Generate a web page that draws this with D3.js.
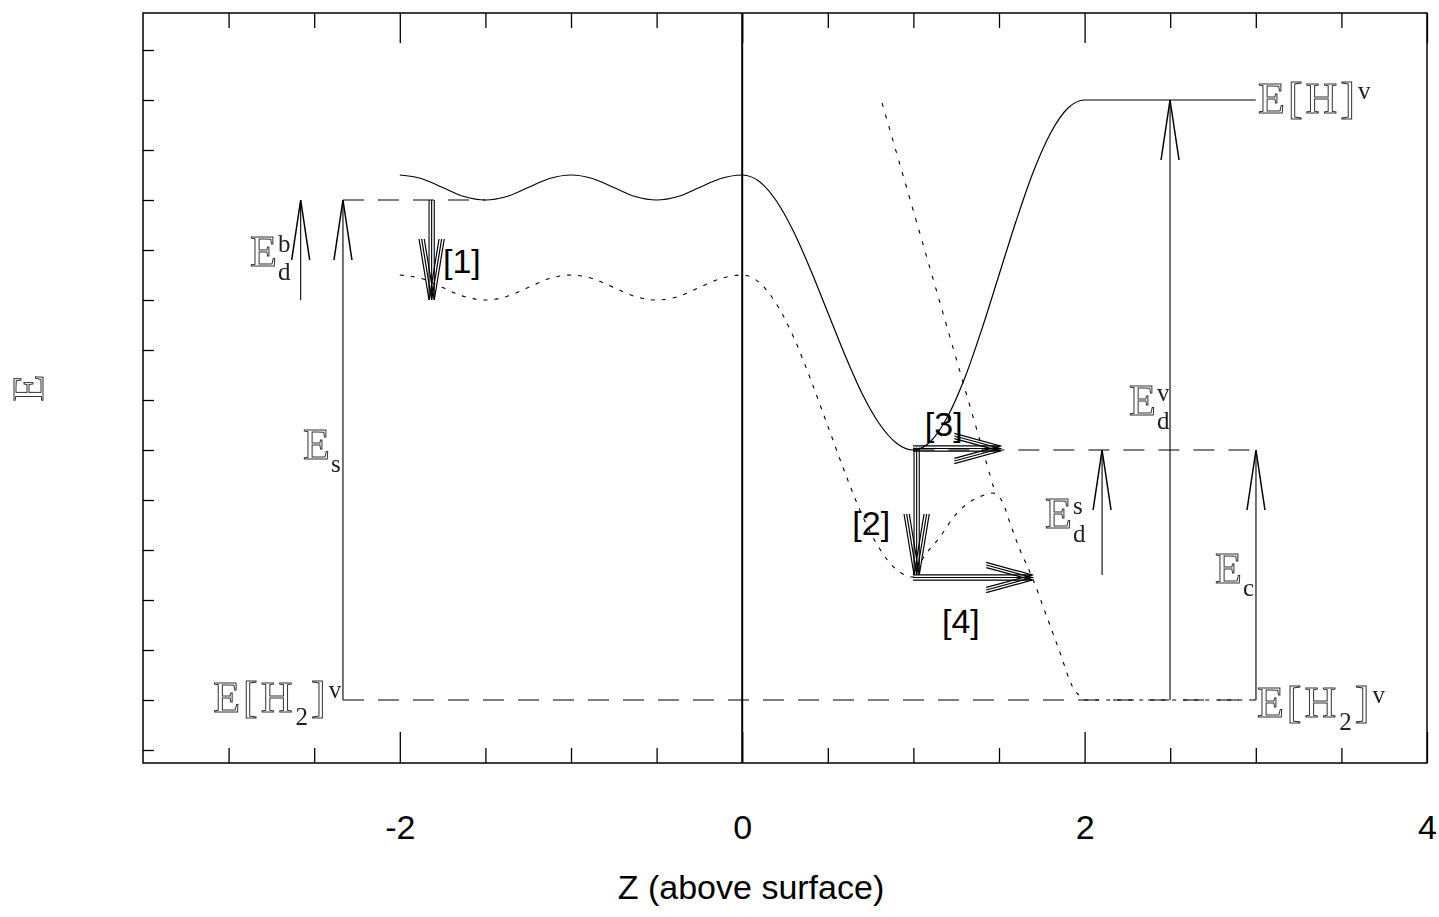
<!DOCTYPE html>
<html>
<head>
<meta charset="utf-8">
<script src="https://cdn.jsdelivr.net/npm/d3@7"></script>
<style>
  html, body { margin: 0; background: #fff; }
</style>
</head>
<body>
<svg id="chart" width="1439" height="917"></svg>
<script>
// ---- axis ticks -------------------------------------------------------
const xMajorTicks = [-2, 0, 2, 4];
const xMinorTicks = [-3, -2.5, -1.5, -1, -0.5, 0.5, 1, 1.5, 2.5, 3, 3.5];
const yTicks = [-1, 0, 1, 2, 3, 4, 5, 6, 7, 8, 9, 10, 11, 12, 13];

// ---- energy levels -----------------------------------------------------
const E_H2 = 0;        // molecule in vacuum
const E_H = 12;        // two free atoms in vacuum
const E_bulk = 10;     // bulk interstitial site
const E_chem = 5;      // chemisorbed atom
const E_sub = 8;       // lower bulk state
const E_low = 2.46;    // lower surface state

// ---- potential curves: [z, E] -----------------------------------------
// atomic potential (solid)
const atomCurve = [
  [-2, 10.5], [-1.875, 10.43], [-1.75, 10.25], [-1.625, 10.07], [-1.5, 10],
  [-1.375, 10.07], [-1.25, 10.25], [-1.125, 10.43], [-1, 10.5],
  [-0.875, 10.43], [-0.75, 10.25], [-0.625, 10.07], [-0.5, 10],
  [-0.375, 10.07], [-0.25, 10.25], [-0.125, 10.43], [0, 10.5],
  [0.1, 10.37], [0.2, 9.98], [0.3, 9.37], [0.4, 8.6], [0.5, 7.75],
  [0.6, 6.9], [0.7, 6.13], [0.8, 5.53], [0.9, 5.14], [1.0, 5.0],
  [1.1, 5.17], [1.2, 5.67], [1.3, 6.44], [1.4, 7.42], [1.5, 8.5],
  [1.6, 9.58], [1.7, 10.56], [1.8, 11.33], [1.9, 11.83], [2.0, 12.0],
  [3.0, 12.0]
];
// molecular potential (dotted)
const moleculeCurve = [
  [-2, 8.5], [-1.875, 8.43], [-1.75, 8.25], [-1.625, 8.07], [-1.5, 8],
  [-1.375, 8.07], [-1.25, 8.25], [-1.125, 8.43], [-1, 8.5],
  [-0.875, 8.43], [-0.75, 8.25], [-0.625, 8.07], [-0.5, 8],
  [-0.375, 8.07], [-0.25, 8.25], [-0.125, 8.43], [0, 8.5],
  [0.1, 8.35], [0.2, 7.92], [0.3, 7.26], [0.4, 6.41], [0.5, 5.48],
  [0.6, 4.55], [0.7, 3.7], [0.8, 3.04], [0.9, 2.61], [1.0, 2.46],
  [1.04, 2.74], [1.155, 3.26], [1.255, 3.74], [1.348, 4.0], [1.436, 4.12],
  [1.465, 4.14], [1.523, 3.94], [1.564, 3.54], [1.623, 3.0], [1.693, 2.46],
  [1.78, 1.66], [1.857, 0.94], [1.93, 0.26], [1.99, 0.03], [2.0, 0],
  [3.0, 0]
];
// repulsive branch (dotted)
const repulsiveLine = [[0.817, 11.94], [1.475, 4.17]];

// ---- dashed reference levels: [zStart, zEnd, E] -----------------------
const dashedLevels = [
  [-2.332, -1.5, E_bulk],
  [-2.332, 3.0, E_H2],
  [1.0, 3.0, E_chem]
];

// ---- barrier arrows: z, from E, to E ----------------------------------
const barrierArrows = [
  { name: "Edb", z: -2.579, from: E_sub, to: E_bulk },
  { name: "Es",  z: -2.332, from: E_H2, to: E_bulk },
  { name: "Eds", z: 2.102,  from: 2.5,  to: E_chem },
  { name: "Edv", z: 2.499,  from: E_H2, to: E_H },
  { name: "Ec",  z: 3.001,  from: E_H2, to: E_chem }
];

// ---- transitions (triple arrows) --------------------------------------
const transitions = [
  { label: "[1]", z0: -1.814, e0: E_bulk, z1: -1.814, e1: E_sub },
  { label: "[2]", z0: 1.019,  e0: 5.05,   z1: 1.019,  e1: 2.5 },
  { label: "[3]", z0: 0.998,  e0: 5.03,   z1: 1.508,  e1: 5.03 },
  { label: "[4]", z0: 0.998,  e0: 2.45,   z1: 1.694,  e1: 2.45 }
];

// ---- text annotations -------------------------------------------------
const levelLabels = [
  { z: 3.013,  E: 11.74, parts: [["E[H]", "big"], ["v", "sup"]] },
  { z: 3.007,  E: -0.34, parts: [["E[H", "big"], ["2", "sub"], ["]", "big"], ["v", "sup"]] },
  { z: -3.09,  E: -0.24, parts: [["E[H", "big"], ["2", "sub"], ["]", "big"], ["v", "sup"]] }
];
const energyLabels = [
  { z: -2.875, E: 8.68, sup: "b", sub: "d" },
  { z: -2.565, E: 4.82, sup: null, sub: "s" },
  { z: 1.769,  E: 3.44, sup: "s", sub: "d" },
  { z: 2.259,  E: 5.70, sup: "v", sub: "d" },
  { z: 2.762,  E: 2.34, sup: null, sub: "c" }
];
const transitionLabelPos = [
  [-1.748, 8.54], [0.643, 3.30], [1.067, 5.28], [1.167, 1.34]
];

// ---- layout -----------------------------------------------------------
const plot = { left: 143, top: 13, right: 1427, bottom: 763 };
const svg = d3.select("#chart");

// plain pass-through filter: renders labels in grayscale antialiasing
const defs = svg.append("defs");
defs.append("filter").attr("id", "flat")
  .append("feOffset").attr("dx", 0).attr("dy", 0);

const x = d3.scaleLinear().domain([-3.5, 4]).range([plot.left, plot.right]);
const y = d3.scaleLinear().domain([-1.26, 13.74]).range([plot.bottom, plot.top]);

const sansFont = "'Liberation Sans', Arial, sans-serif";
const serifFont = "'Liberation Serif', 'Times New Roman', serif";

// ---- axes -------------------------------------------------------------
function styleAxis(g) {
  g.select(".domain").remove();
  g.selectAll(".tick line").attr("stroke", "#000").attr("stroke-width", 1.3);
  g.selectAll(".tick text")
    .attr("font-family", sansFont)
    .attr("font-size", 34)
    .attr("fill", "#000");
}

svg.append("g")
  .attr("transform", `translate(0,${plot.bottom})`)
  .call(d3.axisBottom(x).tickValues(xMajorTicks).tickSize(-31).tickPadding(52)
    .tickFormat(d => String(d)))
  .call(styleAxis);
svg.append("g")
  .attr("transform", `translate(0,${plot.bottom})`)
  .call(d3.axisBottom(x).tickValues(xMinorTicks).tickSize(-15).tickFormat(""))
  .call(styleAxis);
svg.append("g")
  .attr("transform", `translate(0,${plot.top})`)
  .call(d3.axisTop(x).tickValues(xMajorTicks).tickSize(-30).tickFormat(""))
  .call(styleAxis);
svg.append("g")
  .attr("transform", `translate(0,${plot.top})`)
  .call(d3.axisTop(x).tickValues(xMinorTicks).tickSize(-15).tickFormat(""))
  .call(styleAxis);
svg.append("g")
  .attr("transform", `translate(${plot.left},0)`)
  .call(d3.axisLeft(y).tickValues(yTicks).tickSize(-11).tickFormat(""))
  .call(styleAxis);

// frame
svg.append("rect")
  .attr("x", plot.left).attr("y", plot.top)
  .attr("width", plot.right - plot.left).attr("height", plot.bottom - plot.top)
  .attr("fill", "none").attr("stroke", "#000").attr("stroke-width", 1.5);

// surface plane z = 0
svg.append("line")
  .attr("x1", x(0)).attr("x2", x(0))
  .attr("y1", plot.top).attr("y2", plot.bottom)
  .attr("stroke", "#000").attr("stroke-width", 2);

// ---- dashed levels ----------------------------------------------------
svg.append("g").selectAll("line").data(dashedLevels).join("line")
  .attr("x1", d => x(d[0])).attr("x2", d => x(d[1]))
  .attr("y1", d => y(d[2])).attr("y2", d => y(d[2]))
  .attr("stroke", "#000").attr("stroke-width", 1.1)
  .attr("stroke-dasharray", "21,14");

// ---- curves -----------------------------------------------------------
const line = d3.line().x(d => x(d[0])).y(d => y(d[1])).curve(d3.curveMonotoneX);

svg.append("path").datum(atomCurve)
  .attr("d", line).attr("fill", "none")
  .attr("stroke", "#000").attr("stroke-width", 1.2);

svg.append("path").datum(moleculeCurve)
  .attr("d", line).attr("fill", "none")
  .attr("stroke", "#000").attr("stroke-width", 1.1)
  .attr("stroke-dasharray", "4,7");

svg.append("path").datum(repulsiveLine)
  .attr("d", d3.line().x(d => x(d[0])).y(d => y(d[1])))
  .attr("fill", "none")
  .attr("stroke", "#000").attr("stroke-width", 1.1)
  .attr("stroke-dasharray", "4,8");

// ---- open arrow helper ------------------------------------------------
function arrow(g, x0, y0, x1, y1, headLen, headHalf, shaftW, headW) {
  const dx = x1 - x0, dy = y1 - y0, len = Math.hypot(dx, dy);
  const ux = dx / len, uy = dy / len, px = -uy, py = ux;
  g.append("line").attr("x1", x0).attr("y1", y0).attr("x2", x1).attr("y2", y1)
    .attr("stroke", "#000").attr("stroke-width", shaftW);
  const bx = x1 - ux * headLen, by = y1 - uy * headLen;
  g.append("path")
    .attr("d", `M${bx + px * headHalf},${by + py * headHalf}L${x1},${y1}L${bx - px * headHalf},${by - py * headHalf}`)
    .attr("fill", "none").attr("stroke", "#000").attr("stroke-width", headW)
    .attr("stroke-linejoin", "miter");
}

// barrier arrows
const gBarrier = svg.append("g");
barrierArrows.forEach(a => {
  arrow(gBarrier, x(a.z), y(a.from), x(a.z), y(a.to), 60, 9, 1.1, 1.5);
});

// triple transition arrows
const gTrans = svg.append("g");
transitions.forEach(t => {
  const x0 = x(t.z0), y0 = y(t.e0), x1 = x(t.z1), y1 = y(t.e1);
  const vertical = Math.abs(x1 - x0) < 1;
  const headLen = vertical ? 61 : 46;
  const headHalf = vertical ? 10 : 12.5;
  const dx = x1 - x0, dy = y1 - y0, len = Math.hypot(dx, dy);
  const px = -dy / len, py = dx / len;
  [-2.6, 0, 2.6].forEach(o => {
    arrow(gTrans, x0 + px * o, y0 + py * o, x1 + px * o, y1 + py * o,
      headLen, headHalf, 1.1, 1.2);
  });
});

// transition labels
svg.append("g").selectAll("text").data(transitions).join("text")
  .attr("x", (d, i) => x(transitionLabelPos[i][0]))
  .attr("y", (d, i) => y(transitionLabelPos[i][1]))
  .attr("font-family", sansFont).attr("font-size", 34).attr("fill", "#000")
  .text(d => d.label);

// ---- serif math labels ------------------------------------------------
function bigStyle(sel) {
  return sel.attr("font-family", serifFont).attr("font-size", 44)
    .attr("fill", "none").attr("stroke", "#333").attr("stroke-width", 1)
    .attr("letter-spacing", 3);
}
function smallStyle(sel) {
  return sel.attr("font-family", serifFont).attr("font-size", 25)
    .attr("fill", "#222").attr("stroke", "none").attr("letter-spacing", 3);
}

const gLabels = svg.append("g").attr("filter", "url(#flat)");

// level names built from tspans
levelLabels.forEach(l => {
  const t = gLabels.append("text").attr("x", x(l.z)).attr("y", y(l.E));
  let shift = 0;
  l.parts.forEach(([txt, kind]) => {
    const target = kind === "sup" ? -14 : kind === "sub" ? 13 : 0;
    const s = t.append("tspan").attr("dy", target - shift).text(txt);
    shift = target;
    if (kind === "big") bigStyle(s); else smallStyle(s);
  });
});

// barrier names: one text each, super/subscript stacked after the E
energyLabels.forEach(l => {
  const bx = x(l.z), by = y(l.E);
  const t = gLabels.append("text").attr("x", bx).attr("y", by);
  bigStyle(t.append("tspan").text("E"));
  const supShift = -14, subShift = l.sup ? 14 : 13;
  let shift = 0;
  if (l.sup) {
    smallStyle(t.append("tspan").attr("x", bx + 28).attr("dy", supShift).text(l.sup));
    shift = supShift;
  }
  if (l.sub) {
    smallStyle(t.append("tspan").attr("x", bx + 28).attr("dy", subShift - shift).text(l.sub));
  }
});

// axis titles
bigStyle(gLabels.append("text"))
  .attr("transform", `translate(43,${(plot.top + plot.bottom) / 2}) rotate(-90)`)
  .attr("text-anchor", "middle")
  .attr("letter-spacing", 0)
  .text("E");

svg.append("text")
  .attr("x", 751).attr("y", 899)
  .attr("text-anchor", "middle")
  .attr("font-family", sansFont).attr("font-size", 34).attr("fill", "#000")
  .text("Z (above surface)");
</script>
</body>
</html>
